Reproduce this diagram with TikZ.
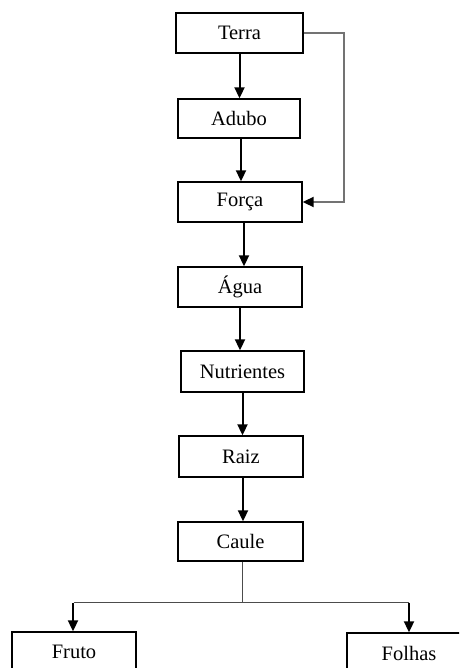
\documentclass[tikz,border=0pt]{standalone}
\usepackage{fontspec}
\setmainfont{Liberation Serif}
\usetikzlibrary{arrows.meta,calc}
\begin{document}
\begin{tikzpicture}[x=1pt,y=-1pt,
  stage/.style={draw=black,line width=1.4pt,fill=white,minimum height=40pt,
    minimum width=124pt,inner sep=0pt,font=\fontsize{20.5}{23}\selectfont},
  flow/.style={draw=black,line width=2pt,-{Triangle[length=11pt,width=10pt]}},
  bypass/.style={draw=black!55,line width=2pt,-{Triangle[length=11pt,width=10pt,color=black]}},
  branch/.style={draw=black!70,line width=1.1pt}]
\useasboundingbox (0,0) rectangle (459,668);
\clip (0,0) rectangle (459,668);
\fill[white] (0,0) rectangle (459,668);

\node[stage,minimum width=127pt] (terra) at (239.5,33) {Terra};
\node[stage,minimum width=122pt,minimum height=39pt] (adubo) at (239,118.5) {Adubo};
\node[stage] (forca) at (240,202) {Força};
\node[stage] (agua) at (240,287) {Água};
\node[stage,minimum width=123pt,minimum height=41pt] (nutr) at (242.5,371.5) {Nutrientes};
\node[stage,minimum height=41pt] (raiz) at (241,456.5) {Raiz};
\node[stage,minimum width=125pt,minimum height=39pt] (caule) at (240.5,541.5) {Caule};
\node[stage] (fruto) at (74,652) {Fruto};
\node[stage] (folhas) at (409,653) {Folhas};

% main chain
\draw[flow] (terra.south) -- (terra.south |- adubo.north);
\draw[flow] ([xshift=2pt]adubo.south) -- ([xshift=2pt]adubo.south |- forca.north);
\draw[flow] ([xshift=4pt]forca.south) -- ([xshift=4pt]forca.south |- agua.north);
\draw[flow] (agua.south) -- (agua.south |- nutr.north);
\draw[flow] (nutr.south) -- (nutr.south |- raiz.north);
\draw[flow] ([xshift=2pt]raiz.south) -- ([xshift=2pt]raiz.south |- caule.north);

% shortcut from Terra to Força
\coordinate (bend) at ($(terra.east)+(40,0)$);
\draw[bypass] (terra.east) -- (bend) |- (forca.east);

% split below Caule
\coordinate (split) at ($(caule.south)+(2,41)$);
\draw[branch] ([xshift=2pt]caule.south) -- (split);
\draw[branch] (split) -- (split -| fruto.north);
\draw[branch] (split) -- (split -| folhas.north);
\draw[flow] ([xshift=-1pt]split -| fruto.north) -- ([xshift=-1pt]fruto.north);
\draw[flow] (split -| folhas.north) -- (folhas.north);
\end{tikzpicture}
\end{document}
